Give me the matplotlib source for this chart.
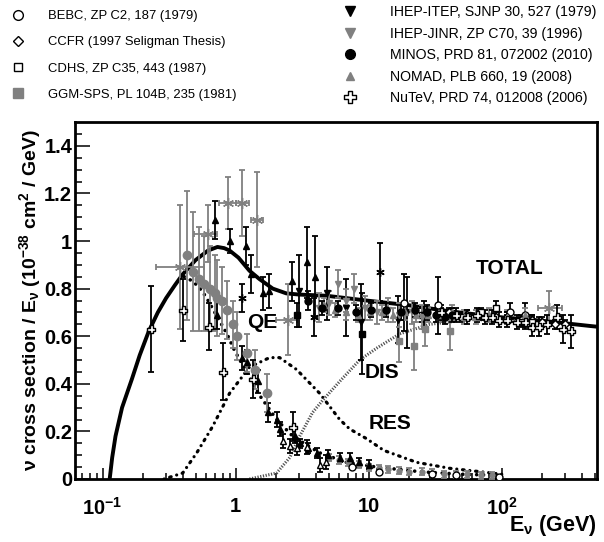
import numpy as np
import matplotlib.pyplot as plt
from matplotlib.ticker import FixedLocator, NullFormatter

plt.rcParams['font.family'] = 'Liberation Sans'
plt.rcParams['mathtext.fontset'] = 'custom'
plt.rcParams['mathtext.rm'] = 'Liberation Sans:bold'
plt.rcParams['mathtext.it'] = 'Liberation Sans:bold'
plt.rcParams['mathtext.bf'] = 'Liberation Sans:bold'

# ---- theory curves (E in GeV, sigma/E in 1e-38 cm^2/GeV)
tot_E = [0.113, 0.118, 0.125, 0.14, 0.166, 0.19, 0.222, 0.26, 0.30, 0.35, 0.40, 0.50, 0.62,
         0.73, 0.82, 0.90, 1.05, 1.27, 1.51, 1.9, 2.4, 3.0, 4.8, 9.6, 20, 40, 96, 200, 460, 520]
tot_y = [0.0, 0.09, 0.18, 0.30, 0.42, 0.52, 0.62, 0.70, 0.76, 0.815, 0.86, 0.92, 0.96,
         0.975, 0.97, 0.96, 0.93, 0.875, 0.84, 0.80, 0.78, 0.775, 0.77, 0.75, 0.73, 0.705,
         0.68, 0.665, 0.643, 0.64]

qe_E = [0.41, 0.48, 0.56, 0.62, 0.73, 0.86, 0.98, 1.21, 1.52, 2.03, 2.68, 4.28, 6.8, 11.5, 25, 50, 100]
qe_y = [0.85, 0.83, 0.79, 0.75, 0.68, 0.61, 0.54, 0.45, 0.35, 0.25, 0.18, 0.11, 0.07, 0.05, 0.03, 0.02, 0.015]

res_E = [0.29, 0.40, 0.51, 0.67, 0.90, 1.27, 1.80, 2.14, 2.87, 4.28, 6.05, 7.2, 9.6, 13, 22.9, 40.6, 85, 100]
res_y = [0.0, 0.025, 0.11, 0.22, 0.36, 0.47, 0.51, 0.51, 0.46, 0.36, 0.25, 0.21, 0.17, 0.12, 0.07, 0.045, 0.025, 0.02]

dis_E = [1.27, 2.03, 2.55, 3.03, 3.79, 4.5, 6.05, 8.55, 11.5, 17.1, 28.7, 57.5, 136]
dis_y = [0.0, 0.025, 0.09, 0.18, 0.28, 0.33, 0.41, 0.50, 0.55, 0.61, 0.65, 0.67, 0.665]

# ---- data sets in the legend
bebc_E = [7.5, 12.0, 18.5, 30.0, 33.0, 45.0, 96.0, 115.0, 150.0]
bebc_y = [0.05, 0.03, 0.74, 0.02, 0.73, 0.015, 0.01, 0.70, 0.69]
bebc_err = [0.01, 0.01, 0.12, 0.01, 0.12, 0.005, 0.005, 0.04, 0.05]

ccfr_E = [40, 55, 70, 90, 110, 140, 170, 200, 250, 300]
ccfr_y = [0.70, 0.69, 0.69, 0.68, 0.68, 0.67, 0.67, 0.66, 0.65, 0.65]
ccfr_err = [0.02] * 10

cdhs_E = [25, 35, 50, 70, 90, 110, 140, 170]
cdhs_y = [0.69, 0.69, 0.68, 0.70, 0.72, 0.67, 0.66, 0.66]
cdhs_err = [0.03, 0.03, 0.02, 0.02, 0.03, 0.02, 0.02, 0.03]

ggm_E = [17, 22, 26.5, 41]
ggm_y = [0.58, 0.56, 0.63, 0.62]
ggm_err = [0.09, 0.10, 0.07, 0.08]

itep_E = [2.97, 4.9, 6.8, 8.8, 16.5, 19.5, 26]
itep_y = [0.79, 0.78, 0.72, 0.66, 0.67, 0.70, 0.69]
itep_err = [0.15, 0.11, 0.12, 0.16, 0.10, 0.15, 0.06]

jinr_E = [4.2, 5.0, 5.9, 6.8, 7.8, 9.3, 11.5, 14, 17, 21, 25]
jinr_y = [0.72, 0.74, 0.82, 0.75, 0.80, 0.72, 0.70, 0.71, 0.69, 0.70, 0.68]
jinr_err = [0.06, 0.05, 0.06, 0.05, 0.06, 0.05, 0.05, 0.05, 0.05, 0.05, 0.05]

minos_E = [3.48, 4.45, 5.89, 7.97, 10.45, 13.43, 17.38, 22.28, 27.22, 32.26, 37.29, 42.32]
minos_y = [0.75, 0.72, 0.72, 0.70, 0.71, 0.71, 0.70, 0.71, 0.70, 0.69, 0.68, 0.69]
minos_err = [0.04, 0.03, 0.03, 0.03, 0.03, 0.03, 0.03, 0.03, 0.03, 0.03, 0.03, 0.03]

nomad_E = [4.6, 5.6, 6.8, 8.3, 10.2, 12.5, 15.3, 18.7, 22.8, 28, 34, 42, 52, 64, 80, 110, 150]
nomad_y = [0.73, 0.71, 0.70, 0.69, 0.70, 0.70, 0.69, 0.70, 0.69, 0.69, 0.69, 0.70, 0.68, 0.68, 0.69, 0.68, 0.69]
nomad_err = [0.03] * 17

nutev_E = [35, 45, 55, 65, 75, 85, 95, 110, 130, 150, 170, 190, 220, 260, 290, 330]
nutev_y = [0.70, 0.69, 0.68, 0.69, 0.68, 0.68, 0.67, 0.67, 0.66, 0.66, 0.64, 0.64, 0.65, 0.68, 0.63, 0.62]
nutev_err = [0.03, 0.03, 0.03, 0.03, 0.03, 0.03, 0.03, 0.03, 0.03, 0.03, 0.04, 0.04, 0.04, 0.05, 0.06, 0.07]

# ---- other data (not in this legend)
lowx_E = [0.23, 0.40, 0.63, 0.80, 1.34, 2.68]
lowx_y = [0.63, 0.71, 0.64, 0.45, 0.42, 0.22]
lowx_err = [0.18, 0.13, 0.10, 0.12, 0.08, 0.06]

gcirc_E = [0.43, 0.48, 0.53, 0.58, 0.64, 0.70, 0.73, 0.79, 0.86, 0.95, 1.03, 1.21, 1.39, 1.71]
gcirc_y = [0.94, 0.87, 0.84, 0.82, 0.80, 0.78, 0.76, 0.75, 0.71, 0.65, 0.60, 0.53, 0.46, 0.36]
gcirc_err = [0.27, 0.25, 0.22, 0.20, 0.18, 0.16, 0.16, 0.14, 0.12, 0.10, 0.10, 0.08, 0.08, 0.08]

gast_E = [0.38, 0.62, 0.87, 1.11, 1.44, 2.46, 225]
gast_y = [0.89, 1.03, 1.16, 1.16, 1.09, 0.67, 0.72]
gast_lo = [0.25, 0.49, 0.75, 1.0, 1.3, 2.0, 188]
gast_hi = [0.58, 0.73, 1.0, 1.25, 1.6, 2.9, 286]
gast_err = [0.26, 0.12, 0.11, 0.14, 0.20, 0.15, 0.07]

btri_E = [0.70, 0.72, 0.90, 1.19, 1.30, 1.60, 1.77, 2.63, 3.42, 3.92]
btri_y = [1.09, 0.69, 1.00, 0.98, 0.86, 0.78, 0.79, 0.83, 0.91, 0.85]
btri_err = [0.08, 0.06, 0.05, 0.08, 0.08, 0.07, 0.07, 0.08, 0.15, 0.17]

bx_E = [1.11, 3.9, 12.1]
bx_y = [0.76, 0.68, 0.87]
bx_err = [0.06, 0.08, 0.12]

bsq_E = [2.87, 8.9]
bsq_y = [0.69, 0.61]
bsq_err = [0.05, 0.17]

qeb_E = [1.11, 1.21, 1.46, 1.74, 2.03, 2.14, 2.78, 3.03, 3.48, 4.06, 4.92, 6.05, 7.2, 8.5, 10]
qeb_y = [0.51, 0.49, 0.41, 0.28, 0.25, 0.21, 0.18, 0.15, 0.13, 0.11, 0.10, 0.09, 0.09, 0.07, 0.06]
qeb_err = [0.05, 0.05, 0.05, 0.04, 0.03, 0.03, 0.03, 0.02, 0.02, 0.02, 0.02, 0.02, 0.02, 0.02, 0.02]

qeo_E = [2.26, 2.55, 2.87, 3.42, 4.28, 4.8]
qeo_y = [0.16, 0.14, 0.13, 0.135, 0.06, 0.07]
qeo_err = [0.03, 0.03, 0.03, 0.03, 0.03, 0.03]

qeg_E = [5, 6, 7, 8.5, 10, 12, 14, 17, 20, 25, 30, 37, 45, 55, 70, 85]
qeg_y = [0.09, 0.08, 0.07, 0.06, 0.05, 0.045, 0.04, 0.035, 0.03, 0.03, 0.025, 0.02, 0.02, 0.02, 0.015, 0.015]
qeg_err = [0.015] * 16

BLACK = 'black'
GRAY = '#808080'
a = 0.36
plus_marker = [(-a, 1), (a, 1), (a, a), (1, a), (1, -a), (a, -a), (a, -1), (-a, -1),
               (-a, -a), (-1, -a), (-1, a), (-a, a), (-a, 1)]

fig = plt.figure(figsize=(6.04, 5.42), dpi=100)
ax = fig.add_axes([75 / 604, 63 / 542, 522 / 604, 357 / 542])


def pts(E, y, yerr, marker, mfc, mec, ecol, ms=4.5, label=None, xlo=None, xhi=None):
    E = np.asarray(E, float)
    y = np.asarray(y, float)
    xerr = None
    if xlo is not None:
        xerr = [E - np.asarray(xlo), np.asarray(xhi) - E]
    ax.errorbar(E, y, yerr=yerr, xerr=xerr, fmt='none', ecolor=ecol,
                elinewidth=1.3, capsize=2, capthick=1.3, zorder=3)
    line, = ax.plot(E, y, ls='none', marker=marker, ms=ms, mfc=mfc, mec=mec,
                    mew=1.0, zorder=4, label=label)
    return line


# curves
ax.plot(tot_E, tot_y, color='black', lw=2.8, zorder=2, solid_capstyle='butt', solid_joinstyle='round')
ax.plot(qe_E, qe_y, color='black', lw=2.6, ls=(0, (0.01, 1.9)), dash_capstyle='round', zorder=2)
ax.plot(res_E, res_y, color='black', lw=2.3, ls=(0, (0.01, 1.8, 0.5, 1.8)), dash_capstyle='round', zorder=2)
ax.plot(dis_E, dis_y, color='#505050', lw=2.2, ls=(0, (0.4, 0.5)), zorder=2)

# unlabelled data
pts(qeg_E, qeg_y, qeg_err, 'o', GRAY, GRAY, GRAY, ms=3.5)
pts(qeb_E, qeb_y, qeb_err, '^', BLACK, BLACK, BLACK, ms=4)
pts(qeo_E, qeo_y, qeo_err, '^', 'white', BLACK, BLACK, ms=5)
pts(gcirc_E, gcirc_y, gcirc_err, 'o', GRAY, GRAY, GRAY, ms=6)
pts(gast_E, gast_y, gast_err, (6, 2, 0), GRAY, GRAY, GRAY, ms=8, xlo=gast_lo, xhi=gast_hi)
pts(btri_E, btri_y, btri_err, '^', BLACK, BLACK, BLACK, ms=5)
pts(bx_E, bx_y, bx_err, (6, 2, 0), BLACK, BLACK, BLACK, ms=6)
pts(bsq_E, bsq_y, bsq_err, 's', BLACK, BLACK, BLACK, ms=5)
pts(lowx_E, lowx_y, lowx_err, plus_marker, 'white', BLACK, BLACK, ms=6)

# labelled data
h_bebc = pts(bebc_E, bebc_y, bebc_err, 'o', 'white', BLACK, BLACK, ms=5, label='BEBC, ZP C2, 187 (1979)')
h_ccfr = pts(ccfr_E, ccfr_y, ccfr_err, 'D', 'white', BLACK, BLACK, ms=4, label='CCFR (1997 Seligman Thesis)')
h_cdhs = pts(cdhs_E, cdhs_y, cdhs_err, 's', 'white', BLACK, BLACK, ms=4.5, label='CDHS, ZP C35, 443 (1987)')
h_ggm = pts(ggm_E, ggm_y, ggm_err, 's', GRAY, GRAY, GRAY, ms=5, label='GGM-SPS, PL 104B, 235 (1981)')
h_itep = pts(itep_E, itep_y, itep_err, 'v', BLACK, BLACK, BLACK, ms=5, label='IHEP-ITEP, SJNP 30, 527 (1979)')
h_jinr = pts(jinr_E, jinr_y, jinr_err, 'v', GRAY, GRAY, GRAY, ms=5, label='IHEP-JINR, ZP C70, 39 (1996)')
h_nomad = pts(nomad_E, nomad_y, nomad_err, '^', GRAY, GRAY, GRAY, ms=4.5, label='NOMAD, PLB 660, 19 (2008)')
h_minos = pts(minos_E, minos_y, minos_err, 'o', BLACK, BLACK, BLACK, ms=5, label='MINOS, PRD 81, 072002 (2010)')
h_nutev = pts(nutev_E, nutev_y, nutev_err, plus_marker, 'white', BLACK, BLACK, ms=6, label='NuTeV, PRD 74, 012008 (2006)')

# curve labels
lab = dict(fontsize=15, fontweight='bold', ha='center', va='center')
ax.text(115, 0.884, 'TOTAL', **lab)
ax.text(1.57, 0.658, 'QE', **lab)
ax.text(12.5, 0.448, 'DIS', **lab)
ax.text(14.4, 0.235, 'RES', **lab)

ax.set_xscale('log')
ax.set_xlim(0.062, 520)
ax.set_ylim(0, 1.5)

ax.xaxis.set_major_locator(FixedLocator([0.1, 1, 10, 100]))
ax.set_xticklabels(['$10^{-1}$', '1', '10', '$10^{2}$'])
ax.xaxis.set_minor_locator(FixedLocator([m * d for d in [0.01, 0.1, 1, 10, 100] for m in range(2, 10)]))
ax.xaxis.set_minor_formatter(NullFormatter())
ax.set_yticks(np.arange(0, 1.41, 0.2))
ax.set_yticklabels(['0', '0.2', '0.4', '0.6', '0.8', '1', '1.2', '1.4'])
ax.set_yticks(np.arange(0, 1.5, 0.05), minor=True)

ax.tick_params(axis='both', which='both', direction='in', top=False, right=False, width=1.1,
               labelsize=14.5)
ax.tick_params(axis='y', which='major', length=11, pad=2)
ax.tick_params(axis='y', which='minor', length=5)
ax.tick_params(axis='x', which='major', length=8, pad=13)
ax.tick_params(axis='x', which='minor', length=4.5)
for t in ax.get_xticklabels() + ax.get_yticklabels():
    t.set_fontweight('bold')
for s in ax.spines.values():
    s.set_linewidth(2.0)

ax.set_ylabel(r'ν cross section / E$_{\nu}$ (10$^{-38}$ cm$^{2}$ / GeV)', fontsize=14,
              fontweight='bold', labelpad=1)
ax.set_xlabel(r'E$_{\nu}$ (GeV)', fontsize=15.5, fontweight='bold', loc='right', labelpad=-4)

leg_kw = dict(frameon=False, handlelength=1.0, borderpad=0, borderaxespad=0,
              markerscale=1.4, numpoints=1)
fig.legend(handles=[h_bebc, h_ccfr, h_cdhs, h_ggm], loc='upper left', fontsize=9.4,
           handletextpad=1.8, bbox_to_anchor=(11 / 604, 1 - 10 / 542), labelspacing=1.08, **leg_kw)
fig.legend(handles=[h_itep, h_jinr, h_minos, h_nomad, h_nutev], loc='upper left', fontsize=10.2,
           handletextpad=2.3, bbox_to_anchor=(343 / 604, 1 - 5 / 542), labelspacing=0.53, **leg_kw)

fig.savefig('out.png', dpi=100)
